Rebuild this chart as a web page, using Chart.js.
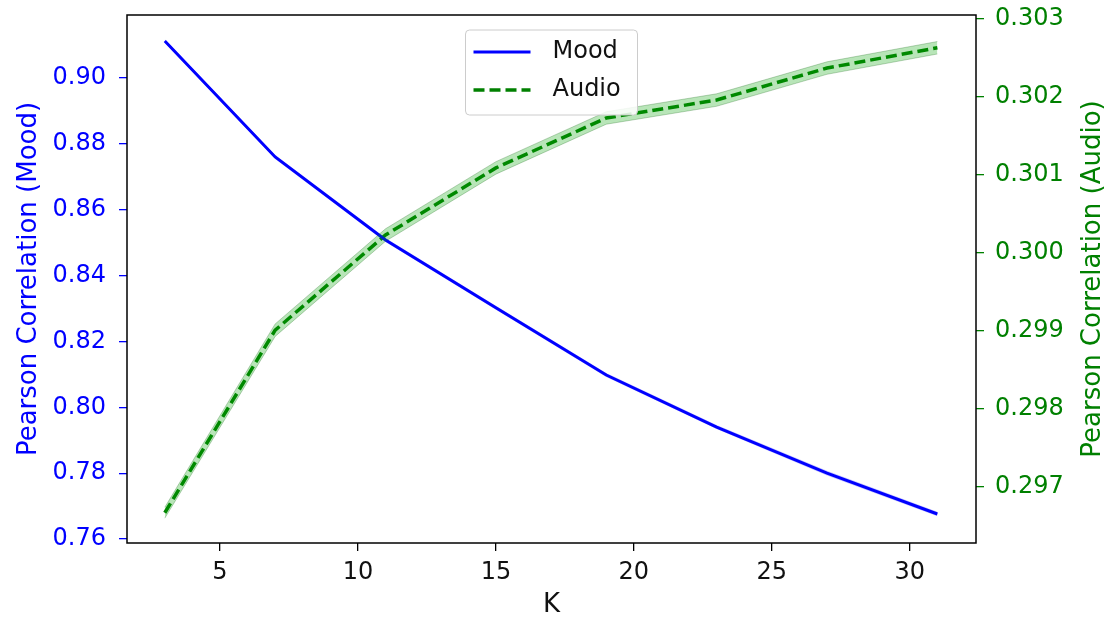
<!DOCTYPE html>
<html>
<head>
<meta charset="utf-8">
<script src="https://cdn.jsdelivr.net/npm/chart.js@4.4.0/dist/chart.umd.min.js"></script>
<style>
  body { margin: 0; background: #fff; }
</style>
</head>
<body>
<canvas id="myChart" width="1109" height="621"></canvas>
<script>
// values
const kValues = [3, 7, 11, 15, 19, 23, 27, 31]
const moodCorr = [0.9112, 0.8760, 0.8508, 0.8302, 0.8098, 0.7940, 0.7800, 0.7676]
const moodSpread = [0.0005, 0.0006, 0.0006, 0.0006, 0.0006, 0.0006, 0.0007, 0.0007]
const audioCorr = [0.29667, 0.29901, 0.30023, 0.30109, 0.30173, 0.30196, 0.30237, 0.30263]
const audioSpread = [0.00007, 0.00008, 0.00008, 0.00008, 0.00008, 0.00008, 0.00008, 0.00008]
const kTicks = [5, 10, 15, 20, 25, 30]
const moodTicks = [0.76, 0.78, 0.80, 0.82, 0.84, 0.86, 0.88, 0.90]
const audioTicks = [0.297, 0.298, 0.299, 0.300, 0.301, 0.302, 0.303]

const moodColor = '#0000ff'
const audioColor = '#008000'
const fontFamily = '"DejaVu Sans", sans-serif'

const points = (vals, off, sign) => kValues.map((k, i) => ({x: k, y: vals[i] + sign * (off ? off[i] : 0)}))

// keep the plot box where the reference has it: no extra room for edge labels
const fixBox = (s, size) => {
  if (s.isHorizontal()) s.height = size
  else s.width = size
  s.paddingTop = 0
  s.paddingBottom = 0
  s.paddingLeft = 0
  s.paddingRight = 0
}

const extrasPlugin = {
  id: 'extras',
  afterDatasetsDraw(chart) {
    const {ctx, chartArea: a} = chart
    ctx.save()
    // axes frame
    ctx.strokeStyle = '#000'
    ctx.lineWidth = 1.5
    ctx.strokeRect(a.left, a.top, a.right - a.left, a.bottom - a.top)

    // legend (upper center)
    const w = 172, h = 85
    const x0 = (a.left + a.right) / 2 - w / 2
    const y0 = a.top + 15
    ctx.beginPath()
    ctx.roundRect(x0, y0, w, h, 4)
    ctx.fillStyle = 'rgba(255,255,255,0.85)'
    ctx.fill()
    ctx.strokeStyle = '#cccccc'
    ctx.lineWidth = 1
    ctx.stroke()
    const rows = [
      {label: 'Mood', color: moodColor, dash: [], width: 3},
      {label: 'Audio', color: audioColor, dash: [11, 5], width: 3.5}
    ]
    rows.forEach((r, i) => {
      const y = y0 + 22 + i * 38
      ctx.beginPath()
      ctx.setLineDash(r.dash)
      ctx.strokeStyle = r.color
      ctx.lineWidth = r.width
      ctx.moveTo(x0 + 8, y)
      ctx.lineTo(x0 + 65, y)
      ctx.stroke()
      ctx.setLineDash([])
      ctx.fillStyle = '#111'
      ctx.font = '24px ' + fontFamily
      ctx.textAlign = 'left'
      ctx.textBaseline = 'middle'
      ctx.fillText(r.label, x0 + 87, y)
    })

    // right axis title, reading bottom to top like the left one
    ctx.translate(1093, (a.top + a.bottom) / 2)
    ctx.rotate(-Math.PI / 2)
    ctx.fillStyle = audioColor
    ctx.font = '26px ' + fontFamily
    ctx.textAlign = 'center'
    ctx.textBaseline = 'middle'
    ctx.fillText('Pearson Correlation (Audio)', 0, 0)
    ctx.restore()
  }
}

const chart = new Chart('myChart', {
  type: 'line',
  data: {
    datasets: [
      {label: 'moodLow', data: points(moodCorr, moodSpread, -1), yAxisID: 'yMood',
        borderWidth: 0, pointRadius: 0, fill: false},
      {label: 'moodHigh', data: points(moodCorr, moodSpread, 1), yAxisID: 'yMood',
        borderWidth: 0, pointRadius: 0, fill: '-1', backgroundColor: 'rgba(0,0,255,0.22)'},
      {label: 'audioLow', data: points(audioCorr, audioSpread, -1), yAxisID: 'yAudio',
        borderWidth: 1, borderColor: 'rgba(0,90,0,0.25)', pointRadius: 0, fill: false},
      {label: 'audioHigh', data: points(audioCorr, audioSpread, 1), yAxisID: 'yAudio',
        borderWidth: 1, borderColor: 'rgba(0,90,0,0.25)', pointRadius: 0, fill: '-1',
        backgroundColor: 'rgba(0,160,0,0.28)'},
      {label: 'Mood', data: points(moodCorr, null, 0), yAxisID: 'yMood',
        borderColor: moodColor, borderWidth: 3, pointRadius: 0, fill: false, tension: 0},
      {label: 'Audio', data: points(audioCorr, null, 0), yAxisID: 'yAudio',
        borderColor: audioColor, borderWidth: 3.5, borderDash: [11, 5], pointRadius: 0, fill: false, tension: 0}
    ]
  },
  options: {
    responsive: false,
    animation: false,
    devicePixelRatio: 1,
    layout: {padding: {top: 15, left: 0, right: 0, bottom: 0}},
    plugins: {legend: {display: false}, tooltip: {enabled: false}},
    scales: {
      x: {
        type: 'linear',
        position: 'bottom',
        min: 1.63,
        max: 32.4,
        afterBuildTicks: s => { s.ticks = kTicks.map(v => ({value: v})) },
        afterFit: s => fixBox(s, 78),
        border: {display: false},
        grid: {drawOnChartArea: false, drawTicks: true, tickLength: 8, color: '#000', lineWidth: 1.3},
        ticks: {font: {family: fontFamily, size: 24}, color: '#111', padding: 7, maxRotation: 0, autoSkip: false},
        title: {display: true, text: 'K', color: '#111', font: {family: fontFamily, size: 26}, padding: {top: 0, bottom: 0}}
      },
      yMood: {
        type: 'linear',
        position: 'left',
        min: 0.7588,
        max: 0.9191,
        afterBuildTicks: s => { s.ticks = moodTicks.map(v => ({value: v})) },
        afterFit: s => fixBox(s, 127),
        border: {display: false},
        grid: {drawOnChartArea: false, drawTicks: true, tickLength: 8, color: moodColor, lineWidth: 1.3},
        ticks: {font: {family: fontFamily, size: 24}, color: moodColor, padding: 13, callback: v => v.toFixed(2)},
        title: {display: true, text: 'Pearson Correlation (Mood)', color: moodColor,
          font: {family: fontFamily, size: 26}, padding: {top: 14, bottom: 0}}
      },
      yAudio: {
        type: 'linear',
        position: 'right',
        min: 0.296282,
        max: 0.30305,
        afterBuildTicks: s => { s.ticks = audioTicks.map(v => ({value: v})) },
        afterFit: s => fixBox(s, 133),
        border: {display: false},
        grid: {drawOnChartArea: false, drawTicks: true, tickLength: 8, color: audioColor, lineWidth: 1.3},
        ticks: {font: {family: fontFamily, size: 24}, color: audioColor, padding: 11, callback: v => v.toFixed(3)}
      }
    }
  },
  plugins: [extrasPlugin]
})
</script>
</body>
</html>
